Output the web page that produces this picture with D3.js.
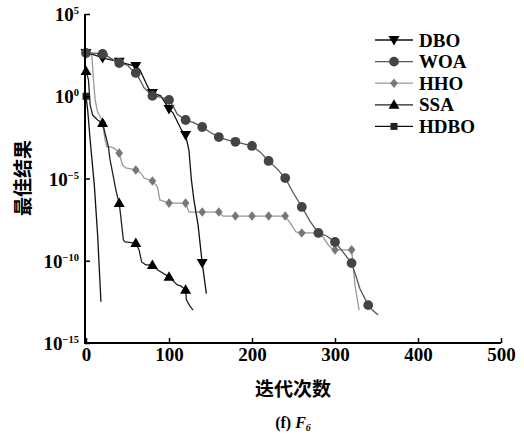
<!DOCTYPE html>
<html>
<head>
<meta charset="utf-8">
<script src="https://cdn.jsdelivr.net/npm/d3@7"></script>
<style>
  html, body { margin: 0; padding: 0; background: #fff; }
  svg { display: block; }
</style>
</head>
<body>
<svg id="chart" width="524" height="437"></svg>
<script>
// ---------- data ----------
const seriesNames = ["DBO", "WOA", "HHO", "SSA", "HDBO"];
const xTicks = [0, 100, 200, 300, 400, 500];
const yTicks = [1e5, 1e0, 1e-5, 1e-10, 1e-15];
const yTickExponents = ["5", "0", "\u22125", "\u221210", "\u221215"];

const dboIter = [0, 10, 20, 30, 40, 50, 60, 65, 75, 80, 90, 100, 105, 115, 120, 124, 127, 130, 135, 140, 145];
const dboVal  = [427, 324, 214, 162, 123, 91, 69, 40, 3.2, 1.6, 1.05, 0.17, 0.095, 8.9e-3, 4.4e-3, 5.4e-4, 8.1e-6, 5.0e-7, 1.5e-8, 7.4e-11, 1.0e-12];

const woaIter = [0, 10, 20, 25, 35, 40, 50, 55, 60, 65, 70, 80, 90, 100, 105, 110, 120, 130, 140, 150, 160, 170, 180, 190, 200, 210, 220, 230, 240, 250, 260, 270, 280, 290, 300, 310, 320, 325, 330, 340, 345, 352];
const woaVal  = [427, 417, 372, 282, 141, 105, 79, 40, 26, 10, 3.2, 1.05, 0.89, 0.60, 0.25, 0.079, 0.036, 0.025, 0.0135, 6.3e-3, 3.3e-3, 2.2e-3, 1.7e-3, 1.26e-3, 9.5e-4, 4.0e-4, 1.17e-4, 4.0e-5, 1.07e-5, 1.26e-6, 1.86e-7, 2.5e-8, 4.9e-9, 3.2e-9, 1.38e-9, 3.2e-10, 7.2e-11, 1.26e-11, 2.0e-12, 2.0e-13, 1.0e-13, 5.0e-14];

const hhoIter = [0, 7, 9, 11, 14, 18, 20, 23, 25, 30, 35, 40, 44, 48, 60, 66, 70, 80, 86, 89, 100, 120, 124, 140, 160, 165, 180, 200, 220, 240, 247, 253, 260, 280, 284, 292, 298, 300, 320, 321, 324, 329];
const hhoVal  = [427, 324, 9.8, 0.60, 0.11, 0.048, 0.024, 2.2e-3, 8.3e-4, 8.3e-4, 6.3e-4, 3.5e-4, 6.6e-5, 4.4e-5, 3.3e-5, 2.2e-5, 1.07e-5, 7.1e-6, 3.1e-6, 5.0e-7, 3.2e-7, 3.2e-7, 9.1e-8, 9.1e-8, 9.1e-8, 5.2e-8, 5.2e-8, 5.2e-8, 5.2e-8, 5.2e-8, 1.7e-8, 5.6e-9, 4.9e-9, 4.9e-9, 3.6e-9, 9.1e-10, 4.6e-10, 4.6e-10, 4.6e-10, 1.5e-10, 3.4e-12, 1.0e-13];

const ssaIter = [0, 3, 5, 8, 14, 20, 22, 27, 29, 33, 36, 38, 40, 41, 45, 47, 60, 64, 67, 72, 80, 86, 100, 110, 114, 120, 121, 125, 129];
const ssaVal  = [34.7, 9.8, 0.30, 0.072, 0.036, 0.024, 8.9e-3, 8.3e-4, 1.35e-4, 1.26e-5, 2.0e-6, 7.6e-7, 3.2e-7, 1.23e-7, 1.86e-9, 1.38e-9, 1.2e-9, 4.6e-10, 8.5e-11, 5.6e-11, 5.6e-11, 2.8e-11, 1.05e-11, 3.4e-12, 2.95e-12, 1.7e-12, 4.2e-13, 1.8e-13, 1.0e-13];

const hdboIter = [0, 2, 5, 10, 14, 18];
const hdboVal  = [1.0, 0.15, 2.2e-3, 4.1e-6, 3.7e-9, 3.2e-13];

const markerEvery = 20;

// ---------- styles ----------
const styles = {
  DBO:  {line: "#111", fill: "#000", shape: "tri-down"},
  WOA:  {line: "#555", fill: "#444", shape: "circle"},
  HHO:  {line: "#999", fill: "#777", shape: "diamond"},
  SSA:  {line: "#222", fill: "#000", shape: "tri-up"},
  HDBO: {line: "#111", fill: "#222", shape: "square"}
};

const seriesData = {
  DBO:  dboIter.map((d, i) => ({it: d, v: dboVal[i]})),
  WOA:  woaIter.map((d, i) => ({it: d, v: woaVal[i]})),
  HHO:  hhoIter.map((d, i) => ({it: d, v: hhoVal[i]})),
  SSA:  ssaIter.map((d, i) => ({it: d, v: ssaVal[i]})),
  HDBO: hdboIter.map((d, i) => ({it: d, v: hdboVal[i]}))
};

const svg = d3.select("#chart");
const x = d3.scaleLinear().domain([0, 500]).range([86, 501]);
const y = d3.scaleLog().domain([1e-15, 1e5]).range([343, 14]);

const serif = "'Liberation Serif', 'Times New Roman', serif";
const cjk = "'Noto Sans CJK SC', sans-serif";

function markerPath(shape) {
  switch (shape) {
    case "circle": return d3.symbol(d3.symbolCircle, 75)();
    case "tri-up": return "M0,-5.5L5.5,4L-5.5,4Z";
    case "tri-down": return "M0,5.5L5.5,-4L-5.5,-4Z";
    case "diamond": return "M0,-4.8L3.8,0L0,4.8L-3.8,0Z";
    case "square": return "M-3.5,-3.5H3.5V3.5H-3.5Z";
  }
}

// ---------- series ----------
const line = d3.line().x(d => x(d.it)).y(d => y(d.v));
const drawOrder = ["HHO", "DBO", "WOA", "SSA", "HDBO"];
drawOrder.forEach(name => {
  const st = styles[name];
  const g = svg.append("g");
  g.append("path")
    .datum(seriesData[name])
    .attr("fill", "none")
    .attr("stroke", st.line)
    .attr("stroke-width", 1.3)
    .attr("d", line);
  g.selectAll("path.m")
    .data(seriesData[name].filter(d => d.it % markerEvery === 0))
    .join("path")
    .attr("class", "m")
    .attr("transform", d => `translate(${x(d.it)},${y(d.v)})`)
    .attr("d", markerPath(st.shape))
    .attr("fill", st.fill);
});

// ---------- axes ----------
const xAxis = d3.axisBottom(x).tickValues(xTicks).tickSizeInner(-5).tickSizeOuter(0).tickPadding(5);
const gx = svg.append("g").attr("transform", "translate(0,343)").call(xAxis);
gx.select(".domain").attr("stroke", "#000").attr("stroke-width", 2).attr("d", "M85,0H501");
gx.selectAll(".tick line").attr("stroke", "#000").attr("stroke-width", 1.5);
gx.selectAll(".tick text")
  .attr("font-family", serif).attr("font-weight", "bold").attr("font-size", 19).attr("fill", "#000");

const yAxis = d3.axisLeft(y).tickValues(yTicks).tickSizeInner(-5).tickSizeOuter(0).tickFormat("");
const gy = svg.append("g").attr("transform", "translate(85,0)").call(yAxis);
gy.select(".domain").attr("stroke", "#000").attr("stroke-width", 2).attr("d", "M0,14V344");
gy.selectAll(".tick line").attr("stroke", "#000").attr("stroke-width", 1.5);

yTicks.forEach((t, i) => {
  const txt = svg.append("text")
    .attr("x", 79).attr("y", y(t) + 7)
    .attr("text-anchor", "end")
    .attr("font-family", serif).attr("font-weight", "bold").attr("font-size", 19).attr("fill", "#000");
  txt.append("tspan").text("10");
  txt.append("tspan").attr("dy", -7).attr("font-size", 10.5).text(yTickExponents[i]);
});

// axis titles
svg.append("text")
  .attr("transform", "translate(23,178) rotate(-90)")
  .attr("text-anchor", "middle").attr("dy", "0.35em")
  .attr("font-family", cjk).attr("font-weight", "bold").attr("font-size", 19).attr("fill", "#000")
  .text("最佳结果");

svg.append("text")
  .attr("x", 293).attr("y", 389).attr("dy", "0.35em")
  .attr("text-anchor", "middle")
  .attr("font-family", cjk).attr("font-weight", "bold").attr("font-size", 19).attr("fill", "#000")
  .text("迭代次数");

const cap = svg.append("text")
  .attr("x", 293).attr("y", 428)
  .attr("text-anchor", "middle")
  .attr("font-family", serif).attr("font-weight", "bold").attr("font-size", 16).attr("fill", "#000");
cap.append("tspan").text("(f) ");
cap.append("tspan").attr("font-style", "italic").text("F");
cap.append("tspan").attr("font-style", "italic").attr("font-size", 10).attr("dy", 3).text("6");

// ---------- legend ----------
const legend = svg.append("g");
seriesNames.forEach((name, i) => {
  const st = styles[name];
  const ry = 40 + i * 21.6;
  legend.append("line")
    .attr("x1", 375).attr("x2", 413).attr("y1", ry).attr("y2", ry)
    .attr("stroke", st.line).attr("stroke-width", 1.3);
  legend.append("path")
    .attr("transform", `translate(394,${ry})`)
    .attr("d", markerPath(st.shape))
    .attr("fill", st.fill);
  legend.append("text")
    .attr("x", 419).attr("y", ry).attr("dy", "0.35em")
    .attr("font-family", serif).attr("font-weight", "bold").attr("font-size", 19).attr("fill", "#000")
    .text(name);
});
</script>
</body>
</html>
